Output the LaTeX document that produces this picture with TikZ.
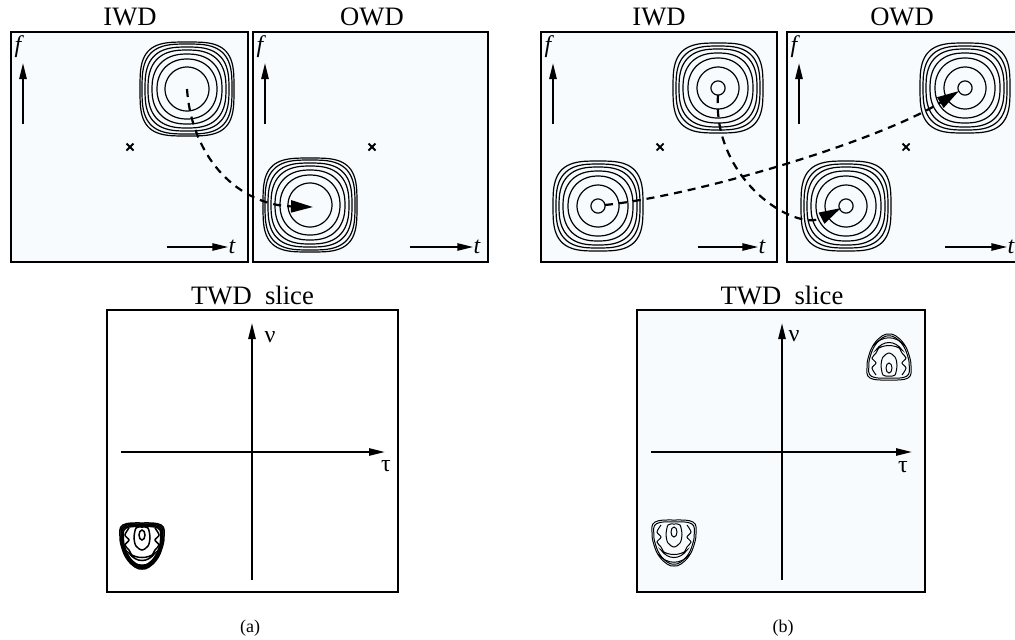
\documentclass[tikz,border=0pt]{standalone}
\usepackage{fontspec}
\setmainfont{Liberation Serif}
\usetikzlibrary{arrows.meta}
\definecolor{panelbg}{RGB}{247,251,254}
\newcommand\myblobbody[2]{%
  \foreach \s in {#1}{%
    \begin{scope}[scale=\s]
      \draw[line width=#2] plot[smooth cycle, tension=0.7] coordinates {(-19,-21) (0,-23) (19,-21) (22,-10) (20,2) (15,13) (7,21) (0,23) (-7,21) (-15,13) (-20,2) (-22,-10)};
    \end{scope}}
  \draw[line width=#2] plot[smooth] coordinates {(-13,-18) (-17,-11) (-13,-6) (-17,-1) (-13,4) (-10,10)};
  \draw[line width=#2] plot[smooth] coordinates {(13,-18) (17,-11) (13,-6) (17,-1) (13,4) (10,10)};
  \draw[line width=#2] plot[smooth cycle] coordinates {(-6,-18) (0,-19) (6,-18) (8,-8) (6,0) (0,4) (-6,0) (-8,-8)};
  \draw[line width=#2] (0,-11) ellipse [x radius=3, y radius=5];
  \draw[line width=#2] (-13,7) .. controls (-6,17) and (6,17) .. (13,7) .. controls (6,13) and (-6,13) .. cycle;
  \draw[line width=#2] (-16,11) .. controls (-7,22) and (7,22) .. (16,11);
}
\tikzset{
  panel/.style={draw=black, line width=1pt, fill=panelbg},
  wpanel/.style={draw=black, line width=1pt, fill=white},
  contour/.style={line width=0.6pt},
  axis/.style={line width=1pt, -{Triangle[length=8pt,width=3.6pt]}},
  track/.style={line width=1.1pt, dash pattern=on 4pt off 3pt, -{Triangle[length=11pt,width=6pt]}},
  ttl/.style={font=\fontsize{13.3}{15}\selectfont, inner sep=0pt},
  lab/.style={font=\fontsize{12}{13}\selectfont\itshape, inner sep=0pt},
  glab/.style={font=\fontsize{12}{13}\selectfont, inner sep=0pt},
  captxt/.style={font=\fontsize{9}{10}\selectfont, inner sep=0pt},
  cross/.style={line width=0.9pt},
  ringsA/.pic={
    \foreach \r/\n in {22/2,30/2.15,35/2.35,39/2.6,42/2.85,45/3.1,47/3.4}{
      \draw[contour] plot[variable=\t,domain=2.5:362.5,samples=73]
        ({\r*sign(cos(\t))*pow(abs(cos(\t)),2/\n)},{\r*sign(sin(\t))*pow(abs(sin(\t)),2/\n)}) -- cycle;}
  },
  ringsB/.pic={
    \foreach \r/\n in {7/2,21/2,30/2.15,35/2.4,39/2.65,42/2.9,45/3.2}{
      \draw[contour] plot[variable=\t,domain=2.5:362.5,samples=73]
        ({\r*sign(cos(\t))*pow(abs(cos(\t)),2/\n)},{\r*sign(sin(\t))*pow(abs(sin(\t)),2/\n)}) -- cycle;}
  },
  blobA/.pic={\myblobbody{1,0.95,0.9,0.85}{0.75pt}},
  blobB/.pic={\myblobbody{1,0.92}{0.5pt}}
}
\begin{document}
\begin{tikzpicture}[x=0.5pt,y=-0.5pt]
\useasboundingbox (0,0) rectangle (1015,639);
\fill[white] (0,0) rectangle (1015,639);

% ---------- (a) ----------
\draw[panel] (11,32) rectangle (248,262);
\draw[panel] (253,32) rectangle (488,262);
\node[ttl] (tiwda) at (130,16.5) {IWD};
\node[ttl] (towda) at (372,16.5) {OWD};
\node[lab] (fa1) at (18,47) {f};
\node[lab] (fa2) at (260,47) {f};
\coordinate (ua1s) at (23,124); \coordinate (ua1e) at (23,63);
\coordinate (ua2s) at (265,124); \coordinate (ua2e) at (265,63);
\draw[axis] (ua1s) -- (ua1e);
\draw[axis] (ua2s) -- (ua2e);
\node[lab] (ta1) at (232,247) {t};
\node[lab] (ta2) at (477,247) {t};
\coordinate (ra1s) at (167,247); \coordinate (ra2s) at (410,247);
\draw[axis] (ra1s) -- (ta1.west);
\draw[axis] (ra2s) -- (ta2.west);
\coordinate (ca1) at (187,89);
\coordinate (ca2) at (310,205);
\pic at (ca1) {ringsA};
\pic at (ca2) {ringsA};
\coordinate (xa1) at (130,147);
\coordinate (xa2) at (372,147);
\draw[cross] (xa1) +(-3.5,-3.5) -- +(3.5,3.5) +(-3.5,3.5) -- +(3.5,-3.5);
\draw[cross] (xa2) +(-3.5,-3.5) -- +(3.5,3.5) +(-3.5,3.5) -- +(3.5,-3.5);
\coordinate (tra) at (313,207);
\draw[track] (ca1) .. controls (192,160) and (240,205) .. (tra);

\node[ttl] (twda) at (252.5,295) {TWD\ \ slice};
\draw[wpanel] (107,310) rectangle (398,592);
\coordinate (va0) at (252,580); \coordinate (va1) at (252,323);
\coordinate (ha0) at (121,452); \coordinate (ha1) at (385,452);
\draw[axis] (va0) -- (va1);
\draw[axis] (ha0) -- (ha1);
\node[glab] (nua) at (270,337) {ν};
\node[glab] (taua) at (386,466) {τ};
\pic at (142,546) {blobA};
\node[captxt] (capa) at (250,628) {(a)};

% ---------- (b) ----------
\draw[panel] (541,32) rectangle (777,262);
\draw[panel] (787,32) rectangle (1022,262);
\node[ttl] (tiwdb) at (659,16.5) {IWD};
\node[ttl] (towdb) at (902,16.5) {OWD};
\node[lab] (fb1) at (548,47) {f};
\node[lab] (fb2) at (794,47) {f};
\coordinate (ub1s) at (553,124); \coordinate (ub1e) at (553,63);
\coordinate (ub2s) at (799,124); \coordinate (ub2e) at (799,63);
\draw[axis] (ub1s) -- (ub1e);
\draw[axis] (ub2s) -- (ub2e);
\node[lab] (tb1) at (762,247) {t};
\node[lab] (tb2) at (1011,247) {t};
\coordinate (rb1s) at (698,247); \coordinate (rb2s) at (945,247);
\draw[axis] (rb1s) -- (tb1.west);
\draw[axis] (rb2s) -- (tb2.west);
\coordinate (cb1) at (718,88);
\coordinate (cb2) at (598,206);
\coordinate (cb3) at (965,88);
\coordinate (cb4) at (846,206);
\pic at (cb1) {ringsB};
\pic at (cb2) {ringsB};
\pic at (cb3) {ringsB};
\pic at (cb4) {ringsB};
\coordinate (xb1) at (660,147);
\coordinate (xb2) at (906,147);
\draw[cross] (xb1) +(-3.5,-3.5) -- +(3.5,3.5) +(-3.5,3.5) -- +(3.5,-3.5);
\draw[cross] (xb2) +(-3.5,-3.5) -- +(3.5,3.5) +(-3.5,3.5) -- +(3.5,-3.5);
\coordinate (sb1) at (718,95);
\coordinate (eb1) at (841,208);
\coordinate (sb2) at (605,205);
\coordinate (eb2) at (959,91);
\draw[track] (sb1) .. controls (712,180) and (795,232) .. (eb1);
\draw[track] (sb2) .. controls (700,195) and (880,140) .. (eb2);

\node[ttl] (twdb) at (782,295) {TWD\ \ slice};
\draw[panel] (637,310) rectangle (925,592);
\coordinate (vb0) at (782,580); \coordinate (vb1) at (782,323);
\coordinate (hb0) at (651,452); \coordinate (hb1) at (912,452);
\draw[axis] (vb0) -- (vb1);
\draw[axis] (hb0) -- (hb1);
\node[glab] (nub) at (794,336) {ν};
\node[glab] (taub) at (903,467) {τ};
\pic at (674,543) {blobB};
\pic[yscale=-1] at (889,357) {blobB};
\node[captxt] (capb) at (783,628) {(b)};
\end{tikzpicture}
\end{document}
